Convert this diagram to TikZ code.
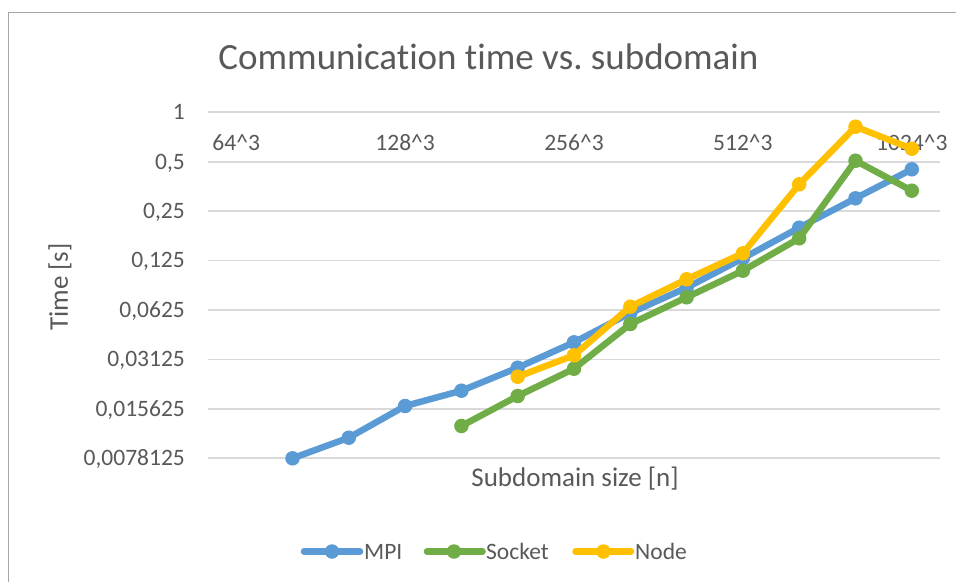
\documentclass[tikz,border=0pt]{standalone}
\usepackage{fontspec}
\setmainfont[Ligatures=NoCommon]{Carlito}
\definecolor{txtgray}{HTML}{595959}
\definecolor{gridgray}{HTML}{D9D9D9}
\definecolor{framegray}{HTML}{A6A6A6}
\definecolor{mpiblue}{HTML}{5B9BD5}
\definecolor{sockgreen}{HTML}{70AD47}
\definecolor{nodeyellow}{HTML}{FFC000}
\newcommand{\ticksize}{\fontsize{23.5}{28}\selectfont}
\begin{document}
\begin{tikzpicture}[x=1pt,y=-1pt,
  every node/.style={inner sep=0pt,text=txtgray},
  gridline/.style={draw=gridgray,line width=1.8pt},
  chartframe/.style={draw=framegray,line width=1.6pt},
  ticklabel/.style={font=\ticksize},
  axistitle/.style={font=\fontsize{27}{32}\selectfont},
  series/.style={line width=6.5pt,line join=round,line cap=round},
  dot/.style={circle,fill=#1,minimum size=14.5pt,draw=none}]
\useasboundingbox (0,0) rectangle (956,582);
\fill[white] (0,0) rectangle (956,582);
% outer chart frame
\draw[chartframe] (8.5,582) -- (8.5,12.5) -- (956,12.5);

% title
\node[anchor=base,font=\fontsize{37}{44}\selectfont] (title) at (488.5,69.3) {Communication time vs.\ subdomain};

% horizontal gridlines and value labels (log2 scale)
\foreach \k/\lab in {0/1,1/{0,5},2/{0,25},3/{0,125},4/{0,0625},5/{0,03125},6/{0,015625},7/{0,0078125}}{
  \draw[gridline] (208,{112.3+49.43*\k}) -- (940,{112.3+49.43*\k});
  \node[ticklabel,anchor=base east] (ylab\k) at (185,{112.3+49.43*\k+7.3}) {\lab};
}

% category labels (every third category)
\foreach \i/\lab in {0/64\^{}3,3/128\^{}3,6/256\^{}3,9/512\^{}3,12/1024\^{}3}{
  \node[ticklabel,anchor=base] (xlab\i) at ({236.2+56.3*\i},150.3) {\lab};
}

% axis titles
\node[axistitle,rotate=90,anchor=center] (ytitle) at (60,287) {Time [s]};
\node[axistitle,anchor=base] (xtitle) at (575,486.7) {Subdomain size [n]};

% data points
\foreach \i/\yy in {1/458.3,2/437.7,3/406,4/390.7,5/367.7,6/342.3,7/313,8/287.7,9/258.3,10/227.7,11/198.3,12/169.3}
  \coordinate (mpi\i) at ({236.2+56.3*\i},\yy);
\foreach \i/\yy in {4/426,5/396,6/368.7,7/324,8/297.3,9/270.7,10/238.3,11/160.7,12/190.7}
  \coordinate (sock\i) at ({236.2+56.3*\i},\yy);
\foreach \i/\yy in {5/376.7,6/355.3,7/306.7,8/279.3,9/253.3,10/184.3,11/126.7,12/148.7}
  \coordinate (nd\i) at ({236.2+56.3*\i},\yy);

% MPI series
\draw[series,mpiblue] (mpi1) -- (mpi2) -- (mpi3) -- (mpi4) -- (mpi5) -- (mpi6) -- (mpi7) -- (mpi8) -- (mpi9) -- (mpi10) -- (mpi11) -- (mpi12);
\foreach \i in {1,...,12} \node[dot=mpiblue] (mpidot\i) at (mpi\i) {};

% Socket series
\draw[series,sockgreen] (sock4) -- (sock5) -- (sock6) -- (sock7) -- (sock8) -- (sock9) -- (sock10) -- (sock11) -- (sock12);
\foreach \i in {4,...,12} \node[dot=sockgreen] (sockdot\i) at (sock\i) {};

% Node series
\draw[series,nodeyellow] (nd5) -- (nd6) -- (nd7) -- (nd8) -- (nd9) -- (nd10) -- (nd11) -- (nd12);
\foreach \i in {5,...,12} \node[dot=nodeyellow] (nddot\i) at (nd\i) {};

% legend
\coordinate (lgA1) at (304,551.5); \coordinate (lgA2) at (360,551.5);
\coordinate (lgB1) at (427,551.5); \coordinate (lgB2) at (482.5,551.5);
\coordinate (lgC1) at (575.5,551.5); \coordinate (lgC2) at (631,551.5);
\draw[series,mpiblue] (lgA1) -- (lgA2);
\node[dot=mpiblue] (lgAdot) at (332,551.5) {};
\node[ticklabel,anchor=west] (lgAtxt) at (364,551.5) {MPI};
\draw[series,sockgreen] (lgB1) -- (lgB2);
\node[dot=sockgreen] (lgBdot) at (454,551.5) {};
\node[ticklabel,anchor=west] (lgBtxt) at (486,551.5) {Socket};
\draw[series,nodeyellow] (lgC1) -- (lgC2);
\node[dot=nodeyellow] (lgCdot) at (603.5,551.5) {};
\node[ticklabel,anchor=west] (lgCtxt) at (635,551.5) {Node};
\end{tikzpicture}
\end{document}
